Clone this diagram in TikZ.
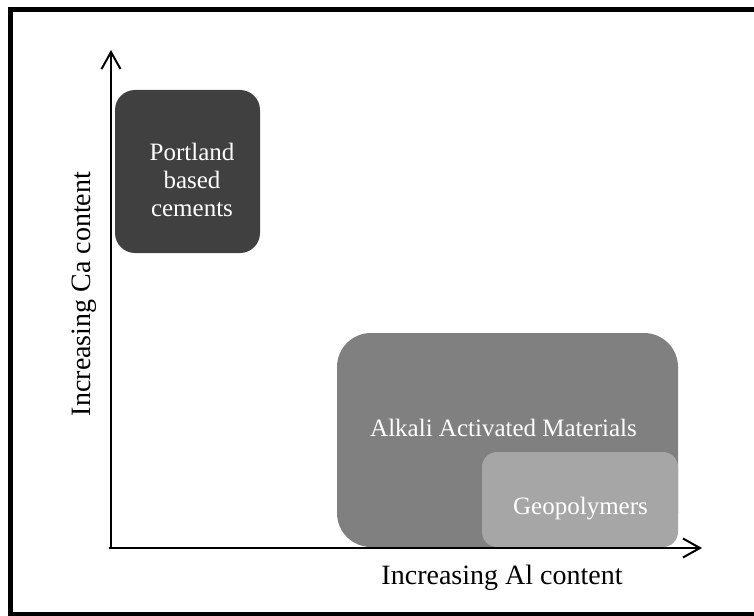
\documentclass[tikz,border=0pt]{standalone}
\usepackage{fontspec}
\setmainfont{Liberation Serif}
\usetikzlibrary{arrows.meta}
\begin{document}
\begin{tikzpicture}[x=1pt,y=-1pt,
  region/.style={draw=none,rounded corners=#1},
  boxlabel/.style={text=white,font=\fontsize{25}{28}\selectfont,align=center,inner sep=0pt},
  axislabel/.style={text=black,font=\fontsize{28}{32}\selectfont,inner sep=0pt},
  axisline/.style={line width=2pt,-{Straight Barb[length=17pt,width=19pt,line width=2pt]}}]
\useasboundingbox (0,0) rectangle (754,615);
\begin{scope}
\clip (0,0) rectangle (754,615);
\draw[line width=5pt] (10.5,9.5) rectangle (760,614.5);
\end{scope}
% regions
\fill[region=20pt,fill={rgb,255:red,64;green,64;blue,64}] (115,90) rectangle (260,253);
\fill[region=34pt,fill={rgb,255:red,128;green,128;blue,128}] (337,333) rectangle (678,547);
\fill[region=15pt,fill={rgb,255:red,166;green,166;blue,166}] (482,452) rectangle (678,547);
\node[boxlabel] (portland) at (192,180) {Portland\\based\\cements};
\node[boxlabel] (aam) at (503.5,428) {Alkali Activated Materials};
\node[boxlabel] (geo) at (580.5,509) {Geopolymers};
% axes
\coordinate (origin) at (111,548);
\coordinate (ytop) at (111,50);
\coordinate (xend) at (702,548);
\coordinate (xstart) at (109,548);
\draw[axisline] (origin) -- (ytop);
\draw[axisline] (xstart) -- (xend);
\node[axislabel] (xlab) at (502,578) {Increasing Al content};
\node[axislabel,rotate=90] (ylab) at (84,294) {Increasing Ca content};
\end{tikzpicture}
\end{document}
